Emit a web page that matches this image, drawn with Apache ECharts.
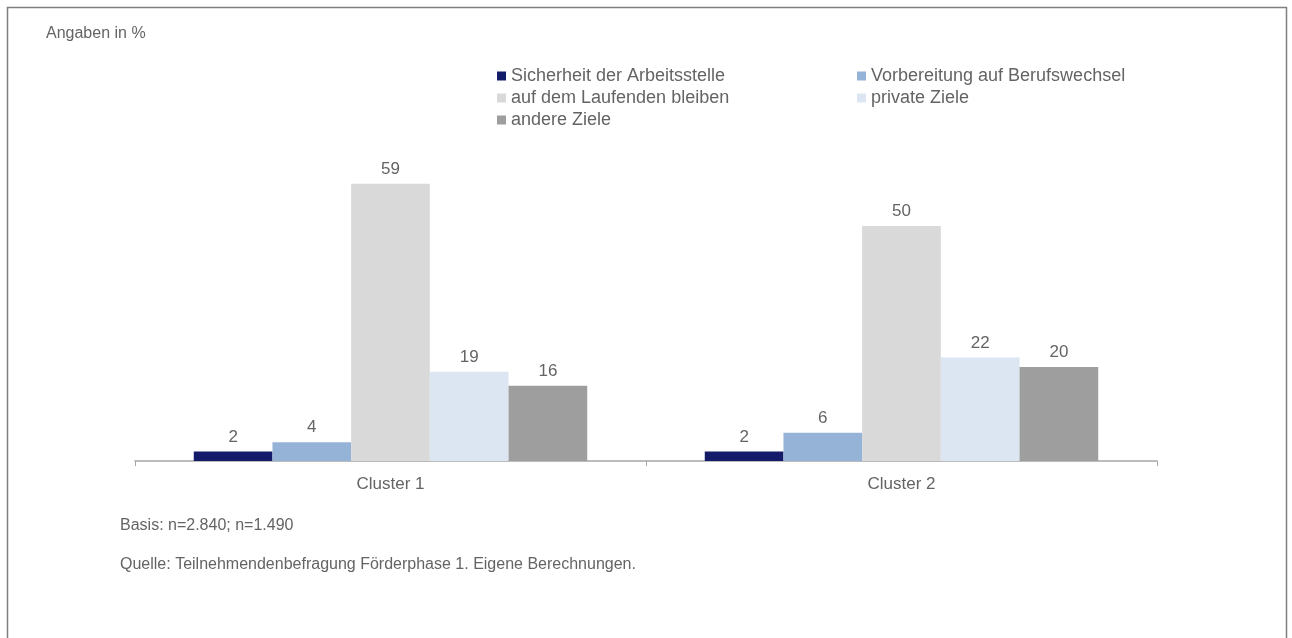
<!DOCTYPE html>
<html>
<head>
<meta charset="utf-8">
<script src="https://cdn.jsdelivr.net/npm/echarts@6/dist/echarts.min.js"></script>
<style>
html, body { margin: 0; padding: 0; background: #fff; }
#chart { width: 1292px; height: 638px; }
</style>
</head>
<body>
<div id="chart"></div>
<script>
// Kategorien und Werte (Angaben in %)
var categories = ['Cluster 1', 'Cluster 2'];
var seriesNames = [
    'Sicherheit der Arbeitsstelle',
    'Vorbereitung auf Berufswechsel',
    'auf dem Laufenden bleiben',
    'private Ziele',
    'andere Ziele'
];
var sicherheit = [2, 2];
var vorbereitung = [4, 6];
var laufenden = [59, 50];
var privat = [19, 22];
var andere = [16, 20];
var seriesValues = [sicherheit, vorbereitung, laufenden, privat, andere];
var colors = ['#141c6a', '#95b3d7', '#d9d9d9', '#dce6f2', '#9e9e9e'];

var chart = echarts.init(document.getElementById('chart'));
var textColor = '#646464';
var font = 'Arial, "Liberation Sans", sans-serif';

var series = seriesNames.map(function (name, i) {
    return {
        name: name,
        type: 'bar',
        barGap: 0,
        barCategoryGap: '23%',
        itemStyle: { color: colors[i] },
        label: {
            show: true,
            position: 'top',
            distance: 6,
            color: textColor,
            fontSize: 17,
            fontFamily: font
        },
        data: seriesValues[i]
    };
});

var legendText = { color: textColor, fontSize: 18, fontFamily: font };

var option = {
    animation: false,
    textStyle: { fontFamily: font },
    graphic: [
        {
            type: 'rect',
            shape: { x: 7.5, y: 7.5, width: 1279, height: 700 },
            style: { fill: 'none', stroke: '#808080', lineWidth: 1.5 },
            silent: true
        },
        {
            type: 'text', left: 46, top: 26,
            style: { text: 'Angaben in %', fill: textColor, font: '16px Arial, "Liberation Sans", sans-serif' }
        },
        {
            type: 'text', left: 120, top: 518,
            style: { text: 'Basis: n=2.840; n=1.490', fill: textColor, font: '16px Arial, "Liberation Sans", sans-serif' }
        },
        {
            type: 'text', left: 120, top: 557,
            style: { text: 'Quelle: Teilnehmendenbefragung Förderphase 1. Eigene Berechnungen.', fill: textColor, font: '16px Arial, "Liberation Sans", sans-serif' }
        }
    ],
    legend: [
        {
            orient: 'vertical',
            left: 492, top: 62,
            itemWidth: 9, itemHeight: 9, itemGap: 4,
            icon: 'rect',
            textStyle: legendText,
            data: [seriesNames[0], seriesNames[2], seriesNames[4]]
        },
        {
            orient: 'vertical',
            left: 852, top: 62,
            itemWidth: 9, itemHeight: 9, itemGap: 4,
            icon: 'rect',
            textStyle: legendText,
            data: [seriesNames[1], seriesNames[3]]
        }
    ],
    grid: { left: 135, right: 135, top: 132, bottom: 177 },
    xAxis: {
        type: 'category',
        data: categories,
        axisLine: { lineStyle: { color: '#a6a6a6', width: 1.5 } },
        axisTick: { show: true, length: 5, lineStyle: { color: '#a6a6a6' } },
        axisLabel: { color: textColor, fontSize: 17, margin: 15, fontFamily: font }
    },
    yAxis: {
        type: 'value',
        min: 0,
        max: 70,
        show: false,
        splitLine: { show: false }
    },
    series: series
};
chart.setOption(option);
</script>
</body>
</html>
